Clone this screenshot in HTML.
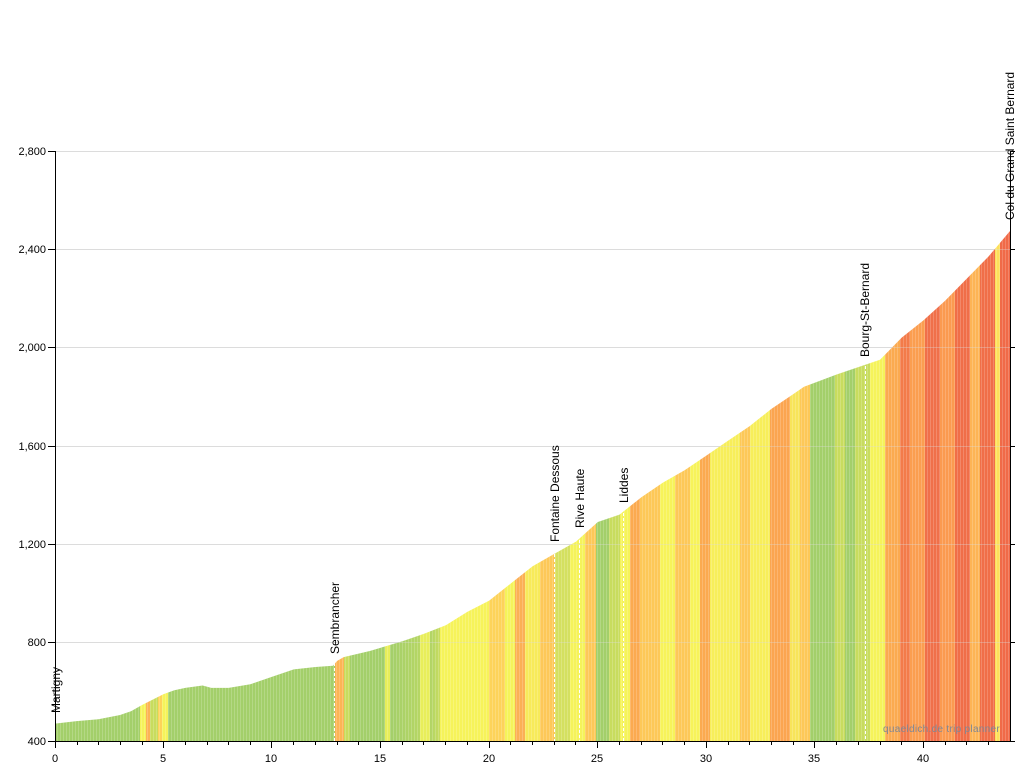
<!DOCTYPE html>
<html><head><meta charset="utf-8"><style>html,body{margin:0;padding:0;background:#fff}svg{display:block}</style></head><body>
<svg width="1024" height="768" viewBox="0 0 1024 768" xmlns="http://www.w3.org/2000/svg" font-family="Liberation Sans, sans-serif">
<defs>
<linearGradient id="g" gradientUnits="userSpaceOnUse" x1="0" y1="0" x2="1024" y2="0">
<stop offset="0.0537" stop-color="#a3cf6a"/><stop offset="0.1367" stop-color="#a3cf6a"/>
<stop offset="0.1367" stop-color="#f5f35a"/><stop offset="0.1426" stop-color="#f5f35a"/>
<stop offset="0.1426" stop-color="#fcb455"/><stop offset="0.1465" stop-color="#fcb455"/>
<stop offset="0.1465" stop-color="#c8dc5e"/><stop offset="0.1543" stop-color="#c8dc5e"/>
<stop offset="0.1543" stop-color="#fdd35a"/><stop offset="0.1582" stop-color="#fdd35a"/>
<stop offset="0.1582" stop-color="#f5f35a"/><stop offset="0.1641" stop-color="#f5f35a"/>
<stop offset="0.1641" stop-color="#a3cf6a"/><stop offset="0.3271" stop-color="#a3cf6a"/>
<stop offset="0.3271" stop-color="#fcb455"/><stop offset="0.3359" stop-color="#fcb455"/>
<stop offset="0.3359" stop-color="#c8dc5e"/><stop offset="0.3418" stop-color="#c8dc5e"/>
<stop offset="0.3418" stop-color="#a3cf6a"/><stop offset="0.3760" stop-color="#a3cf6a"/>
<stop offset="0.3760" stop-color="#e8ee5a"/><stop offset="0.3809" stop-color="#e8ee5a"/>
<stop offset="0.3809" stop-color="#a3cf6a"/><stop offset="0.4102" stop-color="#b6d664"/>
<stop offset="0.4102" stop-color="#e8ee5a"/><stop offset="0.4199" stop-color="#e8ee5a"/>
<stop offset="0.4199" stop-color="#b0d466"/><stop offset="0.4297" stop-color="#c8dc5e"/>
<stop offset="0.4297" stop-color="#f5f35a"/><stop offset="0.4775" stop-color="#f7f35a"/>
<stop offset="0.4775" stop-color="#fdd35a"/><stop offset="0.4932" stop-color="#fdd35a"/>
<stop offset="0.4932" stop-color="#f5f35a"/><stop offset="0.5029" stop-color="#f5f35a"/>
<stop offset="0.5029" stop-color="#fbb055"/><stop offset="0.5127" stop-color="#fbb055"/>
<stop offset="0.5127" stop-color="#f7ea5a"/><stop offset="0.5273" stop-color="#f7ea5a"/>
<stop offset="0.5273" stop-color="#fdc858"/><stop offset="0.5420" stop-color="#fdc858"/>
<stop offset="0.5420" stop-color="#d4e060"/><stop offset="0.5566" stop-color="#d4e060"/>
<stop offset="0.5566" stop-color="#f5f35a"/><stop offset="0.5713" stop-color="#f5f35a"/>
<stop offset="0.5713" stop-color="#fdc858"/><stop offset="0.5820" stop-color="#fdc858"/>
<stop offset="0.5820" stop-color="#a3cf6a"/><stop offset="0.5947" stop-color="#a3cf6a"/>
<stop offset="0.5947" stop-color="#c8dc5e"/><stop offset="0.6055" stop-color="#c8dc5e"/>
<stop offset="0.6055" stop-color="#f5f35a"/><stop offset="0.6152" stop-color="#f5f35a"/>
<stop offset="0.6152" stop-color="#fbaa50"/><stop offset="0.6250" stop-color="#fbaa50"/>
<stop offset="0.6250" stop-color="#fdc858"/><stop offset="0.6445" stop-color="#fdc858"/>
<stop offset="0.6445" stop-color="#f7f35a"/><stop offset="0.6592" stop-color="#f7f35a"/>
<stop offset="0.6592" stop-color="#fdc858"/><stop offset="0.6738" stop-color="#fdc858"/>
<stop offset="0.6738" stop-color="#f7f35a"/><stop offset="0.6836" stop-color="#f7f35a"/>
<stop offset="0.6836" stop-color="#fbaa50"/><stop offset="0.6934" stop-color="#fbaa50"/>
<stop offset="0.6934" stop-color="#f7ee5a"/><stop offset="0.7227" stop-color="#f7ee5a"/>
<stop offset="0.7227" stop-color="#fdc858"/><stop offset="0.7324" stop-color="#fdc858"/>
<stop offset="0.7324" stop-color="#f7ee5a"/><stop offset="0.7520" stop-color="#f7ee5a"/>
<stop offset="0.7520" stop-color="#fba550"/><stop offset="0.7715" stop-color="#fba550"/>
<stop offset="0.7715" stop-color="#f7e45a"/><stop offset="0.7813" stop-color="#f7e45a"/>
<stop offset="0.7813" stop-color="#fdc858"/><stop offset="0.7910" stop-color="#fdc858"/>
<stop offset="0.7910" stop-color="#a3cf6a"/><stop offset="0.8154" stop-color="#a3cf6a"/>
<stop offset="0.8154" stop-color="#c8dc5e"/><stop offset="0.8252" stop-color="#c8dc5e"/>
<stop offset="0.8252" stop-color="#a3cf6a"/><stop offset="0.8350" stop-color="#a3cf6a"/>
<stop offset="0.8350" stop-color="#c8dc5e"/><stop offset="0.8496" stop-color="#c8dc5e"/>
<stop offset="0.8496" stop-color="#f5f35a"/><stop offset="0.8643" stop-color="#f5f35a"/>
<stop offset="0.8643" stop-color="#fbaa50"/><stop offset="0.8789" stop-color="#fbaa50"/>
<stop offset="0.8789" stop-color="#f37b4a"/><stop offset="0.8887" stop-color="#f37b4a"/>
<stop offset="0.8887" stop-color="#fb9e50"/><stop offset="0.9033" stop-color="#fb9e50"/>
<stop offset="0.9033" stop-color="#f0704a"/><stop offset="0.9180" stop-color="#f0704a"/>
<stop offset="0.9180" stop-color="#fb9a50"/><stop offset="0.9326" stop-color="#fb9a50"/>
<stop offset="0.9326" stop-color="#f06e48"/><stop offset="0.9473" stop-color="#f06e48"/>
<stop offset="0.9473" stop-color="#fdb455"/><stop offset="0.9570" stop-color="#fdb455"/>
<stop offset="0.9570" stop-color="#f06e48"/><stop offset="0.9717" stop-color="#f06e48"/>
<stop offset="0.9717" stop-color="#fde05a"/><stop offset="0.9766" stop-color="#fde05a"/>
<stop offset="0.9766" stop-color="#f06a48"/><stop offset="1" stop-color="#f06a48"/>
</linearGradient>
<pattern id="st" patternUnits="userSpaceOnUse" width="3" height="10"><rect x="0" y="0" width="1" height="10" fill="#fff" opacity="0.18"/></pattern>
</defs>
<g stroke="#dcdcdc" stroke-width="1">
<line x1="55" y1="151.5" x2="1015" y2="151.5"/><line x1="55" y1="249.5" x2="1015" y2="249.5"/><line x1="55" y1="347.5" x2="1015" y2="347.5"/><line x1="55" y1="446.5" x2="1015" y2="446.5"/><line x1="55" y1="544.5" x2="1015" y2="544.5"/><line x1="55" y1="642.5" x2="1015" y2="642.5"/>
</g>
<polygon fill="url(#g)" points="55,741 55,723.6 76.7,721.1 98.4,719.2 120.1,715 131,711.2 141.8,705.1 163.6,694.1 174.4,690.3 185.3,687.9 202.6,685.5 211.3,687.9 228.7,687.9 250.4,684.2 272.1,676.8 293.8,669.4 315.5,667 332.9,665.8 337.2,660.9 343.7,657.1 369.8,651 402.4,641.2 424.1,633.8 445.8,625.2 467.5,611.7 489.2,600.6 510.9,583.4 532.6,566.2 554.3,553.9 576,541.6 597.8,522 619.5,514.6 641.2,497.4 662.9,482.6 684.6,470.3 706.3,455.6 728,440.8 749.7,426.1 771.4,408.9 793.1,394.2 804,386.8 836.6,374.5 858.3,367.1 880,359.8 901.7,337.6 923.4,320.4 945.1,300.7 966.8,278.6 988.5,256.5 1010,231 1010,741"/>
<polygon fill="url(#st)" points="55,741 55,723.6 76.7,721.1 98.4,719.2 120.1,715 131,711.2 141.8,705.1 163.6,694.1 174.4,690.3 185.3,687.9 202.6,685.5 211.3,687.9 228.7,687.9 250.4,684.2 272.1,676.8 293.8,669.4 315.5,667 332.9,665.8 337.2,660.9 343.7,657.1 369.8,651 402.4,641.2 424.1,633.8 445.8,625.2 467.5,611.7 489.2,600.6 510.9,583.4 532.6,566.2 554.3,553.9 576,541.6 597.8,522 619.5,514.6 641.2,497.4 662.9,482.6 684.6,470.3 706.3,455.6 728,440.8 749.7,426.1 771.4,408.9 793.1,394.2 804,386.8 836.6,374.5 858.3,367.1 880,359.8 901.7,337.6 923.4,320.4 945.1,300.7 966.8,278.6 988.5,256.5 1010,231 1010,741"/>
<g stroke="#dcdcdc" stroke-width="1" opacity="0.35">
<line x1="55" y1="249.5" x2="1010" y2="249.5"/><line x1="55" y1="347.5" x2="1010" y2="347.5"/><line x1="55" y1="446.5" x2="1010" y2="446.5"/><line x1="55" y1="544.5" x2="1010" y2="544.5"/><line x1="55" y1="642.5" x2="1010" y2="642.5"/>
</g>
<g stroke="#fff" stroke-width="1" stroke-dasharray="3,2">
<line x1="334.5" y1="663" x2="334.5" y2="741"/><line x1="554.5" y1="554" x2="554.5" y2="741"/><line x1="579.5" y1="540" x2="579.5" y2="741"/><line x1="623.5" y1="513" x2="623.5" y2="741"/><line x1="865.5" y1="366" x2="865.5" y2="741"/>
</g>
<g stroke="#000" stroke-width="1" fill="none">
<line x1="55.5" y1="151" x2="55.5" y2="741"/>
<line x1="1010.5" y1="151" x2="1010.5" y2="741"/>
<line x1="55" y1="741.5" x2="1015" y2="741.5"/>
<path d="M48,151.5h7M48,249.5h7M48,347.5h7M48,446.5h7M48,544.5h7M48,642.5h7M48,741.5h7"/>
<path d="M1010,151.5h5M1010,249.5h5M1010,347.5h5M1010,446.5h5M1010,544.5h5M1010,642.5h5"/>
<path d="M55.5,741v7M163.5,741v7M271.5,741v7M380.5,741v7M489.5,741v7M597.5,741v7M706.5,741v7M814.5,741v7M923.5,741v7"/>
<path d="M77.5,741v4M98.5,741v4M120.5,741v4M142.5,741v4M185.5,741v4M207.5,741v4M228.5,741v4M250.5,741v4M293.5,741v4M315.5,741v4M337.5,741v4M358.5,741v4M402.5,741v4M423.5,741v4M445.5,741v4M467.5,741v4M510.5,741v4M532.5,741v4M554.5,741v4M575.5,741v4M619.5,741v4M641.5,741v4M662.5,741v4M684.5,741v4M728.5,741v4M749.5,741v4M771.5,741v4M793.5,741v4M836.5,741v4M858.5,741v4M880.5,741v4M901.5,741v4M945.5,741v4M966.5,741v4M988.5,741v4"/>
</g>
<g font-size="11" fill="#000" text-anchor="end">
<text x="46" y="155">2,800</text><text x="46" y="253">2,400</text><text x="46" y="351">2,000</text><text x="46" y="450">1,600</text><text x="46" y="548">1,200</text><text x="46" y="646">800</text><text x="46" y="745">400</text>
</g>
<g font-size="11" fill="#000" text-anchor="middle">
<text x="55" y="762">0</text><text x="163" y="762">5</text><text x="271" y="762">10</text><text x="380" y="762">15</text><text x="489" y="762">20</text><text x="597" y="762">25</text><text x="706" y="762">30</text><text x="814" y="762">35</text><text x="923" y="762">40</text>
</g>
<g font-size="12" fill="#000">
<text transform="translate(60,713) rotate(-90)">Martigny</text>
<text transform="translate(339,654) rotate(-90)">Sembrancher</text>
<text transform="translate(559,542) rotate(-90)">Fontaine Dessous</text>
<text transform="translate(584,528) rotate(-90)">Rive Haute</text>
<text transform="translate(628,503) rotate(-90)">Liddes</text>
<text transform="translate(869,357) rotate(-90)">Bourg-St-Bernard</text>
<text transform="translate(1014,220) rotate(-90)">Col du Grand Saint Bernard</text>
</g>
<text x="883" y="732" font-size="10" fill="#7f8796" letter-spacing="0.3">quaeldich.de trip planner</text>
</svg>
</body></html>
